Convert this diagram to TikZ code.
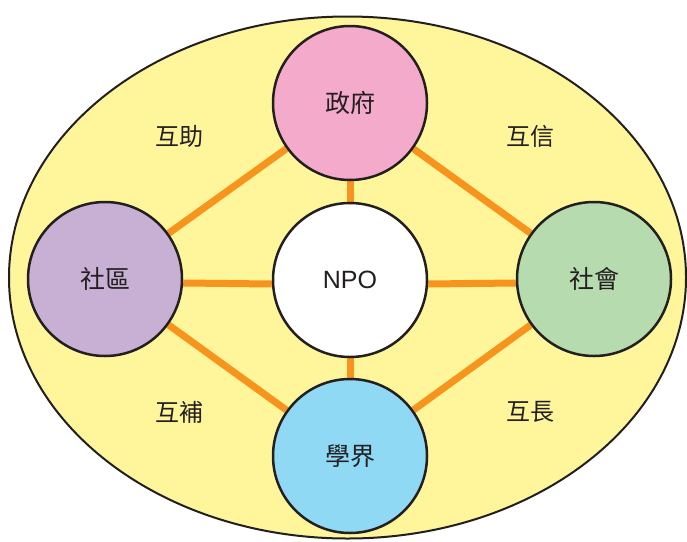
\documentclass[tikz,border=0pt]{standalone}
\usepackage{fontspec}
\usetikzlibrary{shapes.geometric,backgrounds}
\setmainfont{Liberation Sans}
\newfontfamily\cjk{Noto Sans CJK TC}
\definecolor{txt}{HTML}{231F20}
\definecolor{bgyel}{HTML}{FFF59A}
\definecolor{orangeline}{HTML}{F7941D}
\definecolor{cpink}{HTML}{F4AACB}
\definecolor{cpurple}{HTML}{C8B0D4}
\definecolor{cgreen}{HTML}{B5DBAE}
\definecolor{cblue}{HTML}{8FD9F5}
\pgfdeclarelayer{bottom}
\pgfsetlayers{bottom,background,main}
\begin{document}
\begin{tikzpicture}[x=1pt,y=-1pt,
  bubble/.style={circle,draw=txt,line width=2.5pt,minimum size=154pt,inner sep=0pt,text=txt,font=\cjk\fontsize{25}{25}\selectfont},
  link/.style={draw=orangeline,line width=7pt},
  rel/.style={text=txt,font=\cjk\fontsize{24}{24}\selectfont}]
\useasboundingbox (0,0) rectangle (687,541);
\begin{pgfonlayer}{bottom}
\fill[white] (0,0) rectangle (687,541);
\node[ellipse,draw=txt,line width=2pt,fill=bgyel,minimum width=677pt,minimum height=522pt,inner sep=0pt] (bg) at (347.5,277.5) {};
\end{pgfonlayer}
\node[bubble,fill=cpink] (gov) at (350,103) {政府};
\node[bubble,fill=white,font=\fontsize{25}{25}\selectfont] (npo) at (350,280) {NPO};
\node[bubble,fill=cpurple] (com) at (105,279) {社區};
\node[bubble,fill=cgreen] (soc) at (594,279) {社會};
\node[bubble,fill=cblue] (aca) at (350,456) {學界};
\begin{scope}[on background layer]
\draw[link] (gov) -- (npo);
\draw[link] (npo) -- (aca);
\draw[link] ([yshift=-4pt]com.east) -- ([yshift=-4pt]npo.west);
\draw[link] ([yshift=-4pt]npo.east) -- ([yshift=-4pt]soc.west);
\draw[link] (gov) -- (com);
\draw[link] (gov) -- (soc);
\draw[link] (aca) -- (com);
\draw[link] (aca) -- (soc);
\end{scope}
\node[rel] (l1) at (179,136) {互助};
\node[rel] (l2) at (530,136) {互信};
\node[rel] (l3) at (179,412) {互補};
\node[rel] (l4) at (530,412) {互長};
\end{tikzpicture}
\end{document}
